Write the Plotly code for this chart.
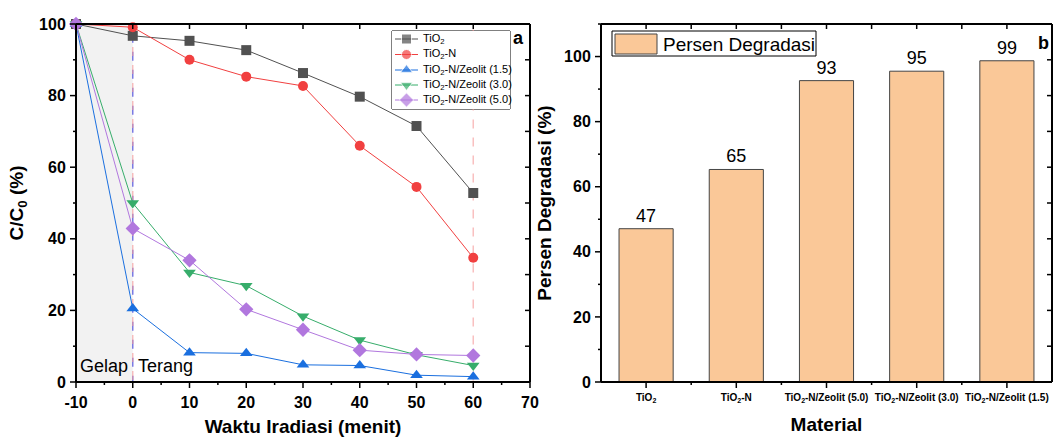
import plotly.graph_objects as go

# ---------------- data ----------------
time_min = [-10, 0, 10, 20, 30, 40, 50, 60]
tio2 = [100, 96.7, 95.3, 92.7, 86.3, 79.7, 71.5, 52.8]
tio2_n = [100, 99.1, 90.0, 85.3, 82.7, 66.0, 54.5, 34.7]
zeolit_15 = [100, 20.5, 8.2, 8.0, 4.8, 4.6, 1.9, 1.5]
zeolit_30 = [100, 50.0, 30.6, 26.9, 18.4, 11.7, 7.6, 4.6]
zeolit_50 = [100, 42.9, 34.0, 20.3, 14.6, 8.9, 7.7, 7.4]

x_ticks = [-10, 0, 10, 20, 30, 40, 50, 60, 70]
x_ticktext = ["-10", "0", "10", "20", "30", "40", "50", "60", "70"]
y_ticks = [0, 20, 40, 60, 80, 100]

materials = ["TiO<sub>2</sub>", "TiO<sub>2</sub>-N", "TiO<sub>2</sub>-N/Zeolit (5.0)",
             "TiO<sub>2</sub>-N/Zeolit (3.0)", "TiO<sub>2</sub>-N/Zeolit (1.5)"]
degradasi = [47.1, 65.3, 92.6, 95.5, 98.7]
degradasi_labels = ["47", "65", "93", "95", "99"]

FONT = "Arial, Liberation Sans, sans-serif"
W, H = 1057, 437
L, R, T, B = 60, 4, 24, 55
PW = W - L - R
PH = H - T - B


def px(x):
    return (x - L) / PW


def py(y):
    return (H - B - y) / PH


fig = go.Figure()

series = [
    ("TiO<sub>2</sub>", tio2, "#515151", "square", 10),
    ("TiO<sub>2</sub>-N", tio2_n, "#F14040", "circle", 10),
    ("TiO<sub>2</sub>-N/Zeolit (1.5)", zeolit_15, "#1A6FDF", "triangle-up", 11),
    ("TiO<sub>2</sub>-N/Zeolit (3.0)", zeolit_30, "#37AD6B", "triangle-down", 11),
    ("TiO<sub>2</sub>-N/Zeolit (5.0)", zeolit_50, "#B177DE", "diamond", 11),
]
for name, ys, col, sym, sz in series:
    fig.add_trace(go.Scatter(
        x=time_min, y=ys, name=name, mode="lines+markers",
        line=dict(color=col, width=1),
        marker=dict(color=col, symbol=sym, size=sz),
        xaxis="x", yaxis="y", showlegend=False, cliponaxis=False))

xs_bar = list(range(len(materials)))
fig.add_trace(go.Bar(
    x=xs_bar, y=degradasi, name="Persen Degradasi",
    marker=dict(color="#FAC898", line=dict(color="#444444", width=1)),
    width=0.6, text=degradasi_labels, textposition="outside",
    textfont=dict(family=FONT, size=18, color="black"),
    cliponaxis=False, xaxis="x2", yaxis="y2", showlegend=False))

# ---- custom legend (panel a) ----
LA = dict(x0=392, x1=510, y0=31, y1=109)
row_y = [39, 54.5, 70, 85, 100]
leg_dom_x = [px(LA["x0"]), px(LA["x1"])]
leg_dom_y = [py(LA["y1"]), py(LA["y0"])]
for (name, ys, col, sym, sz), ry in zip(series, row_y):
    fy = (LA["y1"] - ry) / (LA["y1"] - LA["y0"])
    fig.add_trace(go.Scatter(
        x=[3 / 118, 14.5 / 118, 26 / 118], y=[fy, fy, fy], mode="lines+markers",
        line=dict(color=col, width=1),
        marker=dict(color=col, symbol=sym, size=[0, sz, 0]),
        xaxis="x5", yaxis="y5", showlegend=False, hoverinfo="skip"))
    fig.add_annotation(xref="paper", yref="paper", x=px(LA["x0"] + 29), y=py(ry),
                       xanchor="left", yanchor="middle", text=name, showarrow=False,
                       font=dict(family=FONT, size=11, color="black"))
fig.add_shape(type="rect", xref="paper", yref="paper",
              x0=px(LA["x0"]), x1=px(LA["x1"]), y0=py(LA["y1"]), y1=py(LA["y0"]),
              fillcolor="white", line=dict(color="black", width=1), layer="below")

# ---- custom legend (panel b) ----
fig.add_shape(type="rect", xref="paper", yref="paper",
              x0=px(612), x1=px(816), y0=py(56), y1=py(31),
              fillcolor="white", line=dict(color="black", width=1), layer="above")
fig.add_shape(type="rect", xref="paper", yref="paper",
              x0=px(615), x1=px(657), y0=py(54), y1=py(34),
              fillcolor="#FAC898", line=dict(color="#444444", width=1), layer="above")
fig.add_annotation(xref="paper", yref="paper", x=px(661), y=py(44),
                   xanchor="left", yanchor="middle", text="Persen Degradasi", showarrow=False,
                   font=dict(family=FONT, size=19, color="black"))

PX1 = (76, 530)
PX2 = (601, 1052)
dom1 = [px(PX1[0]), px(PX1[1])]
dom2 = [px(PX2[0]), px(PX2[1])]

axis_common = dict(showline=False, showgrid=False, zeroline=False,
                   ticks="outside", tickcolor="rgba(0,0,0,0)", ticklen=6, automargin=False,
                   tickfont=dict(family=FONT, size=16, color="black", weight="bold"))
title_font = dict(family=FONT, size=19, color="black", weight="bold")

x1_range, y1_range = [-10, 70], [0, 100]
x2_range, y2_range = [-0.5, 4.5], [0, 110]

fig.update_layout(
    width=W, height=H, margin=dict(l=L, r=R, t=T, b=B),
    plot_bgcolor="white", paper_bgcolor="white",
    font=dict(family=FONT, color="black"),
    showlegend=False,
    xaxis=dict(domain=dom1, range=x1_range, anchor="y",
               tickmode="array", tickvals=x_ticks, ticktext=x_ticktext,
               title=dict(text="Waktu Iradiasi (menit)", standoff=14, font=title_font),
               **axis_common),
    yaxis=dict(domain=[0, 1], range=y1_range, tickmode="array", tickvals=y_ticks, anchor="x",
               title=dict(text="C/C<sub>0</sub> (%)", standoff=10, font=title_font),
               **axis_common),
    xaxis2=dict(domain=dom2, range=x2_range, anchor="y2",
                tickmode="array", tickvals=xs_bar, ticktext=materials,
                title=dict(text="Material", standoff=14, font=title_font),
                **{**axis_common,
                   "tickfont": dict(family=FONT, size=10, color="black", weight="bold")}),
    yaxis2=dict(domain=[0, 1], range=y2_range, tickmode="array", tickvals=y_ticks, anchor="x2",
                title=dict(text="Persen Degradasi (%)", standoff=7, font=title_font),
                **axis_common),
    xaxis5=dict(domain=leg_dom_x, range=[0, 1], visible=False, anchor="y5"),
    yaxis5=dict(domain=leg_dom_y, range=[0, 1], visible=False, anchor="x5"),
    bargap=0.4,
)

# shaded dark region and dashed frames
fig.add_shape(type="rect", xref="x", yref="y", x0=-10, x1=0, y0=0, y1=100,
              fillcolor="#F2F2F2", line=dict(color="rgba(70,70,220,0.7)", width=1.5, dash="dash"),
              layer="below")
fig.add_shape(type="rect", xref="x", yref="y", x0=0, x1=60, y0=0, y1=100,
              fillcolor="rgba(0,0,0,0)", line=dict(color="rgba(245,150,150,0.6)", width=1.5, dash="dash"),
              layer="below")


# ---- axis frames and tick marks (drawn as paper shapes) ----
def seg(x0, x1, y0, y1, width=1.5):
    fig.add_shape(type="line", xref="paper", yref="paper", x0=x0, x1=x1, y0=y0, y1=y1,
                  line=dict(color="black", width=width), layer="above")


def frac(v, rng):
    return (v - rng[0]) / (rng[1] - rng[0])


def add_frame(pxr, xr, yr, bottom_major, bottom_minor, left_major, left_minor,
              top_ticks, right_ticks):
    xl, xrr = px(pxr[0]), px(pxr[1])
    xw = pxr[1] - pxr[0]
    seg(xl, xl, 0, 1, 2)
    seg(xrr, xrr, 0, 1, 2)
    seg(xl, xrr, 0, 0, 2)
    seg(xl, xrr, 1, 1, 2)

    def xp(f):
        return px(pxr[0] + f * xw)

    for v in bottom_major:
        seg(xp(frac(v, xr)), xp(frac(v, xr)), 0, -6 / PH)
    for v in bottom_minor:
        seg(xp(frac(v, xr)), xp(frac(v, xr)), 0, -3 / PH)
    for v in left_major:
        seg(xl, xl - 6 / PW, frac(v, yr), frac(v, yr))
    for v in left_minor:
        seg(xl, xl - 3 / PW, frac(v, yr), frac(v, yr))
    for f in top_ticks:
        seg(xp(f), xp(f), 1, 1 - 5 / PH)
    for f in right_ticks:
        seg(xrr, xrr - 5 / PW, f, f)


minor_x1 = [v + 5 for v in x_ticks[:-1]]
minor_y = [v + 10 for v in y_ticks[:-1]]
right_fracs = [i / 10 for i in range(1, 10)]

add_frame(PX1, x1_range, y1_range, x_ticks, minor_x1, y_ticks, minor_y,
          [frac(v, x1_range) for v in x_ticks[1:-1]], right_fracs)
add_frame(PX2, x2_range, y2_range, xs_bar, [i + 0.5 for i in xs_bar[:-1]],
          y_ticks, minor_y + [110],
          [frac(i / 2, x2_range) for i in range(0, 2 * len(xs_bar) - 1)], right_fracs)

fig.add_annotation(xref="x", yref="y", x=-10, y=1, xanchor="left", yanchor="bottom",
                   xshift=2, text="Gelap", showarrow=False,
                   font=dict(family=FONT, size=18, color="black"))
fig.add_annotation(xref="x", yref="y", x=0, y=1, xanchor="left", yanchor="bottom",
                   xshift=3, text="Terang", showarrow=False,
                   font=dict(family=FONT, size=18, color="black"))
fig.add_annotation(xref="paper", yref="paper", x=px(526), y=py(38),
                   xanchor="right", yanchor="middle", text="a", showarrow=False,
                   font=dict(family=FONT, size=18, color="black", weight="bold"))
fig.add_annotation(xref="paper", yref="paper", x=px(1051), y=py(43),
                   xanchor="right", yanchor="middle", text="b", showarrow=False,
                   font=dict(family=FONT, size=18, color="black", weight="bold"))

fig.write_html("out.html")
